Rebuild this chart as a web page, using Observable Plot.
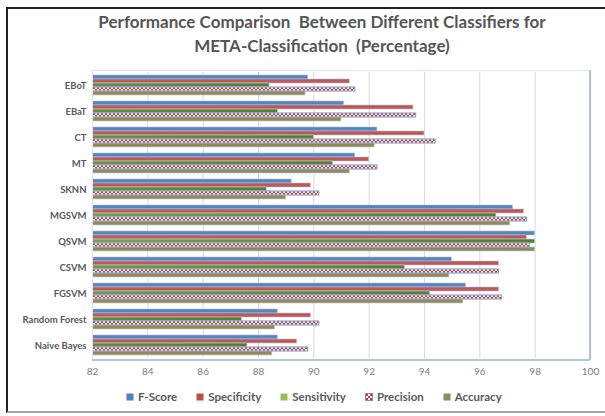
<!DOCTYPE html>
<html><head><meta charset="utf-8">
<script src="https://cdn.jsdelivr.net/npm/d3@7"></script>
<script src="https://cdn.jsdelivr.net/npm/@observablehq/plot@0.6"></script>
<style>
body{margin:0;background:#fff;font-family:Lato,"Open Sans",sans-serif;}
#wrap{position:relative;width:605px;height:416px;overflow:hidden;background:#fff;}
#border{position:absolute;left:6px;top:7px;width:605px;height:406px;border-left:2px solid #222;border-top:2px solid #222;border-bottom:2px solid #a6a6a6;box-sizing:border-box;pointer-events:none}
#title{position:absolute;top:10px;left:40px;width:564px;text-align:center;font-weight:bold;font-size:17px;line-height:24px;color:#555;white-space:pre;}
#chart{position:absolute;left:0;top:60px;}
#legend{position:absolute;left:126px;top:390px;display:flex;gap:19px;font-weight:bold;font-size:11.5px;color:#595959;line-height:14px;}
#legend .it{display:flex;align-items:center;gap:4px;}
#legend svg{display:block}
</style>
</head><body>
<svg width="0" height="0" style="position:absolute">
 <defs>
  <pattern id="pPrec" width="4" height="4" patternUnits="userSpaceOnUse">
   <rect width="4" height="4" fill="#fff"/>
   <path d="M0,0L4,4M4,0L0,4" stroke="#d2302c" stroke-width="1"/>
  </pattern>
  <linearGradient id="gSens" x1="0" y1="0" x2="1" y2="0">
   <stop offset="0" stop-color="#557f28"/>
   <stop offset="0.15" stop-color="#6f9a3a"/>
   <stop offset="0.45" stop-color="#c4dc9c"/>
   <stop offset="0.75" stop-color="#8db258"/>
   <stop offset="1" stop-color="#567f2a"/>
  </linearGradient>
  <linearGradient id="gBlue" x1="0" y1="0" x2="0" y2="1">
   <stop offset="0" stop-color="#3f6fae"/>
   <stop offset="0.5" stop-color="#5a8ccb"/>
   <stop offset="1" stop-color="#3f6fae"/>
  </linearGradient>
  <linearGradient id="gRed" x1="0" y1="0" x2="0" y2="1">
   <stop offset="0" stop-color="#a94441"/>
   <stop offset="0.5" stop-color="#cc5d5a"/>
   <stop offset="1" stop-color="#a94441"/>
  </linearGradient>
 </defs>
</svg>
<div id="wrap">
 <div id="border"></div>
 <div id="title">Performance Comparison  Between Different Classifiers for
META-Classification  (Percentage)</div>
 <div id="chart"></div>
 <div id="legend"></div>
</div>
<script>
const categories = ["EBoT","EBaT","CT","MT","SKNN","MGSVM","QSVM","CSVM","FGSVM","Random Forest","Naive Bayes"];
const seriesNames = ["F-Score","Specificity","Sensitivity","Precision","Accuracy"];
const fScore      = [89.8, 91.1, 92.3, 91.5, 89.2, 97.2, 98.0, 95.0, 95.5, 88.7, 88.7];
const specificity = [91.3, 93.6, 94.0, 92.0, 89.9, 97.6, 97.7, 96.7, 96.7, 89.9, 89.4];
const sensitivity = [88.4, 88.7, 90.0, 90.7, 88.3, 96.6, 98.0, 93.3, 94.2, 87.4, 87.6];
const precision   = [91.5, 93.7, 94.4, 92.3, 90.2, 97.7, 97.8, 96.7, 96.8, 90.2, 89.8];
const accuracy    = [89.7, 91.0, 92.2, 91.3, 89.0, 97.1, 98.0, 94.9, 95.4, 88.6, 88.5];
const xTicks = [82, 84, 86, 88, 90, 92, 94, 96, 98, 100];
const xDomain = [82, 100];

const seriesFills = ["url(#gBlue)", "url(#gRed)", "url(#gSens)", "url(#pPrec)", "#938953"];
const legendFills = ["#4f81bd", "#c0504d", "#9bbb59", "url(#pPrec)", "#938953"];

const valuesBySeries = [fScore, specificity, sensitivity, precision, accuracy];
const table = categories.flatMap((c, i) =>
  seriesNames.map((s, j) => ({category: c, series: s, value: valuesBySeries[j][i]})));

const W = 605, H = 325, mT = 10, mB = 25, mL = 92, mR = 15;

const chart = Plot.plot({
  width: W, height: H,
  marginTop: mT, marginBottom: mB, marginLeft: mL, marginRight: mR,
  style: {fontFamily: "Lato, sans-serif", fontSize: "10px", color: "#595959", background: "transparent", overflow: "visible"},
  x: {domain: xDomain, label: null},
  y: {domain: seriesNames, axis: null, paddingInner: 0.1, paddingOuter: 0.8},
  fy: {domain: categories, padding: 0, label: null},
  color: {domain: seriesNames, range: seriesFills},
  marks: [
    Plot.ruleX(xTicks, {stroke: "#d9d9d9", strokeWidth: 1}),
    Plot.barX(table, {x: "value", y: "series", fy: "category", fill: "series",
      stroke: "#b9cde5", strokeWidth: 0.7, clip: true}),
    Plot.barX(table.filter(d => d.series === "Precision"), {x: "value", y: "series", fy: "category",
      fill: "none", stroke: "#7fa0d2", strokeWidth: 0.9, clip: true}),
    Plot.axisX(xTicks, {tickSize: 0, tickPadding: 9, fontSize: 10, fill: "#7f7f7f", label: null}),
    Plot.axisFy({anchor: "left", tickSize: 0, tickPadding: 6, fontSize: 9.5, fontWeight: "bold", fill: "#595959", label: null})
  ]
});
document.getElementById("chart").appendChild(chart);

// plot-area frame
const svgSel = d3.select(chart.tagName.toLowerCase() === "svg" ? chart : chart.querySelector("svg"));
const xr = chart.scale("x").range;
const yTop = mT, yBot = H - mB;
svgSel.append("line").attr("x1", xr[0]).attr("x2", xr[1]).attr("y1", yTop + 0.5).attr("y2", yTop + 0.5).attr("stroke", "#dbe4f0");
svgSel.append("line").attr("x1", xr[0] + 0.5).attr("x2", xr[0] + 0.5).attr("y1", yTop).attr("y2", yBot).attr("stroke", "#dbe4f0");
svgSel.append("line").attr("x1", xr[1]).attr("x2", xr[1]).attr("y1", yTop).attr("y2", yBot).attr("stroke", "#95b3d7").attr("stroke-width", 1.5);
svgSel.append("line").attr("x1", xr[0]).attr("x2", xr[1]).attr("y1", yBot).attr("y2", yBot).attr("stroke", "#95b3d7").attr("stroke-width", 1.5);

// legend
const leg = d3.select("#legend");
seriesNames.forEach((s, i) => {
  const it = leg.append("div").attr("class", "it");
  const sw = it.append("svg").attr("width", 8).attr("height", 8);
  sw.append("rect").attr("x", 0.5).attr("y", 0.5).attr("width", 7).attr("height", 7)
    .attr("fill", legendFills[i]).attr("stroke", s === "Precision" ? "#6f95cc" : "none");
  it.append("span").text(s);
});
</script>
</body></html>
